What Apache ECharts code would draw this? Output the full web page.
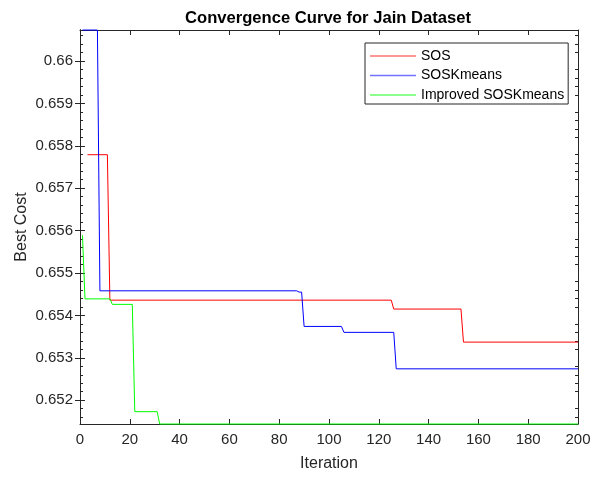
<!DOCTYPE html>
<html>
<head>
<meta charset="utf-8">
<script src="https://cdn.jsdelivr.net/npm/echarts@6/dist/echarts.min.js"></script>
<style>
  html, body { margin: 0; padding: 0; background: #fff; }
  #chart { width: 603px; height: 479px; }
</style>
</head>
<body>
<div id="chart"></div>
<script>
// series names
const seriesNames = ["SOS", "SOSKmeans", "Improved SOSKmeans"];

// breakpoints (iteration, best cost)
const sosIter = [3, 11, 12, 125, 126, 153, 154, 200];
const sosCost = [0.65779, 0.65779, 0.65436, 0.65436, 0.65415, 0.65415, 0.65337, 0.65337];

const soskIter = [1, 7, 8, 87, 88, 89, 90, 105, 106, 126, 127, 200];
const soskCost = [0.66073, 0.66073, 0.65458, 0.65458, 0.65455, 0.65455, 0.65374, 0.65374, 0.6536, 0.6536, 0.65274, 0.65274];

const impIter = [1, 2, 12, 13, 21, 22, 31, 32, 200];
const impCost = [0.65589, 0.65439, 0.65439, 0.65426, 0.65426, 0.65173, 0.65173, 0.651439, 0.651439];

// axis ticks
const xTicks = [0, 20, 40, 60, 80, 100, 120, 140, 160, 180, 200];
const yTicks = [0.652, 0.653, 0.654, 0.655, 0.656, 0.657, 0.658, 0.659, 0.66];
const yMin = 0.651439;
const yMax = 0.660731;

// minor ticks every 0.0002 (5 per major step)
const yMinor = [];
for (let k = 3258; k <= 3303; k++) {
  if (k % 5 !== 0) yMinor.push(k / 5000);
}

const colors = ["#ff0000", "#0000ff", "#00ff00"];
const legendColors = ["rgba(255,0,0,0.55)", "rgba(0,0,255,0.55)", "rgba(0,255,0,0.6)"];
const font = "Liberation Sans, Arial, Helvetica, sans-serif";
const ink = "#262626";

function pairs(xs, ys) {
  return xs.map((x, i) => [x, ys[i]]);
}

const chart = echarts.init(document.getElementById("chart"));

const baseX = {
  type: "value",
  min: xTicks[0],
  max: xTicks[xTicks.length - 1],
  interval: 20,
  splitLine: { show: false },
  axisLine: { lineStyle: { color: ink, width: 1 } },
  axisTick: { inside: true, length: 5, lineStyle: { color: ink } },
};

function yAxisDef(pos, ticks, len, labels) {
  return {
    type: "value",
    position: pos,
    min: yMin,
    max: yMax,
    scale: true,
    splitLine: { show: false },
    axisLine: { show: true, lineStyle: { color: ink, width: 1 } },
    axisTick: { show: true, inside: true, length: len, customValues: ticks, lineStyle: { color: ink } },
    axisLabel: labels
      ? {
          customValues: yTicks,
          fontSize: 15,
          fontFamily: font,
          color: ink,
          margin: 7,
          formatter: (v) => String(+(+v).toFixed(3)),
        }
      : { show: false },
  };
}

const option = {
  animation: false,
  backgroundColor: "#fff",
  color: colors,
  title: {
    text: "Convergence Curve for Jain Dataset",
    left: 328,
    top: 10,
    padding: 0,
    textAlign: "center",
    textStyle: { fontSize: 16.6, fontWeight: "bold", fontFamily: font, color: "#000" },
  },
  grid: { left: 80, right: 25, top: 30, bottom: 55, containLabel: false },
  legend: {
    orient: "vertical",
    left: 365,
    top: 43,
    padding: [6, 4, 2, 5],
    icon: "rect",
    itemWidth: 46,
    itemHeight: 1.5,
    itemGap: 5.5,
    backgroundColor: "#fff",
    borderColor: ink,
    borderWidth: 1,
    borderRadius: 0,
    textStyle: { fontSize: 14, fontFamily: font, color: "#000", lineHeight: 14 },
    data: seriesNames.map((n, i) => ({ name: n, itemStyle: { color: legendColors[i] } })),
  },
  xAxis: [
    Object.assign({}, baseX, {
      position: "bottom",
      name: "Iteration",
      nameLocation: "middle",
      nameGap: 32,
      nameMoveOverlap: false,
      nameTextStyle: { fontSize: 16, fontFamily: font, color: ink },
      axisLabel: { fontSize: 15, fontFamily: font, color: ink, margin: 8 },
    }),
    Object.assign({}, baseX, { position: "top", axisLabel: { show: false } }),
  ],
  yAxis: [
    Object.assign(yAxisDef("left", yTicks, 5, true), {
      name: "Best Cost",
      nameLocation: "middle",
      nameGap: 50,
      nameMoveOverlap: false,
      nameTextStyle: { fontSize: 16, fontFamily: font, color: ink },
    }),
    yAxisDef("right", yTicks, 5, false),
    yAxisDef("left", yMinor, 3, false),
    yAxisDef("right", yMinor, 3, false),
  ],
  series: [
    { name: seriesNames[0], data: pairs(sosIter, sosCost) },
    { name: seriesNames[1], data: pairs(soskIter, soskCost) },
    { name: seriesNames[2], data: pairs(impIter, impCost) },
  ].map((s, i) => ({
    name: s.name,
    type: "line",
    data: s.data,
    xAxisIndex: 0,
    yAxisIndex: 0,
    symbol: "none",
    clip: false,
    lineStyle: { width: 1, color: colors[i] },
    itemStyle: { color: colors[i] },
  })),
};

chart.setOption(option);
</script>
</body>
</html>
